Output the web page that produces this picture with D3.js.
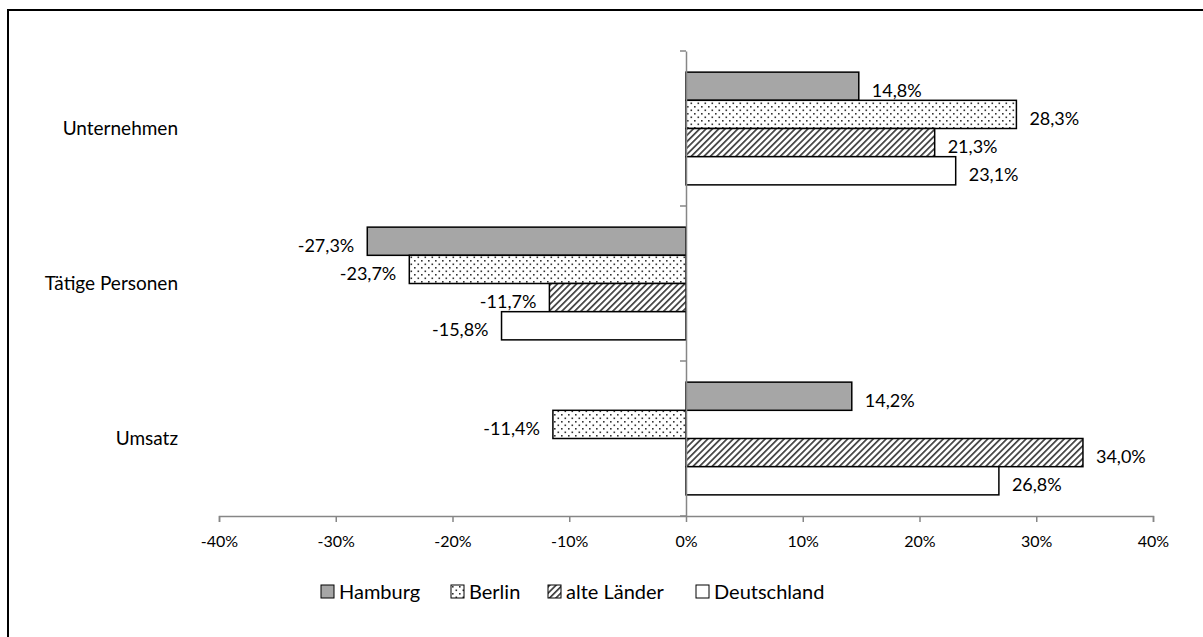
<!DOCTYPE html>
<html>
<head>
<meta charset="utf-8">
<script src="https://cdn.jsdelivr.net/npm/d3@7"></script>
<style>
  body { margin: 0; background: #fff; }
  text { font-family: Lato, "Noto Sans", sans-serif; fill: #000; }
</style>
</head>
<body>
<script>
// Daten
const categories = ["Unternehmen", "Tätige Personen", "Umsatz"];
const series = ["Hamburg", "Berlin", "alte Länder", "Deutschland"];
const hamburg = [14.8, -27.3, 14.2];
const berlin = [28.3, -23.7, -11.4];
const alteLaender = [21.3, -11.7, 34.0];
const deutschland = [23.1, -15.8, 26.8];
const xTicks = [-40, -30, -20, -10, 0, 10, 20, 30, 40];

const values = [hamburg, berlin, alteLaender, deutschland];
const rows = [];
categories.forEach((c, i) => {
  series.forEach((s, j) => rows.push({ cat: c, ser: s, value: values[j][i] }));
});

const width = 1203;
const height = 637;
const margin = { top: 51, right: 50, bottom: 121, left: 219 };

const svg = d3.select('body')
  .append('svg')
  .attr('width', width)
  .attr('height', height);

// Muster
const defs = svg.append('defs');
const dots = defs.append('pattern')
  .attr('id', 'dots')
  .attr('patternUnits', 'userSpaceOnUse')
  .attr('width', 7).attr('height', 7);
dots.append('rect').attr('width', 7).attr('height', 7).attr('fill', '#fff');
dots.append('rect').attr('x', 1).attr('y', 1).attr('width', 1.6).attr('height', 1.6).attr('fill', '#333');
dots.append('rect').attr('x', 4.5).attr('y', 4.5).attr('width', 1.6).attr('height', 1.6).attr('fill', '#333');

const hatch = defs.append('pattern')
  .attr('id', 'hatch')
  .attr('patternUnits', 'userSpaceOnUse')
  .attr('width', 4.5).attr('height', 4.5)
  .attr('patternTransform', 'rotate(45)');
hatch.append('rect').attr('width', 4.5).attr('height', 4.5).attr('fill', '#fff');
hatch.append('rect').attr('x', 0).attr('width', 1.7).attr('height', 4.5).attr('fill', '#404040');

const fills = {
  "Hamburg": '#a6a6a6',
  "Berlin": 'url(#dots)',
  "alte Länder": 'url(#hatch)',
  "Deutschland": '#fff'
};

// Rahmen
svg.append('rect')
  .attr('x', 8).attr('y', 10)
  .attr('width', 1300).attr('height', 700)
  .attr('fill', 'none')
  .attr('stroke', '#000')
  .attr('stroke-width', 2);

// Skalen
const x = d3.scaleLinear()
  .domain([-40, 40])
  .range([margin.left, 1153]);

const y = d3.scaleBand()
  .domain(categories)
  .range([margin.top, height - margin.bottom]);

const ySub = d3.scaleBand()
  .domain(series)
  .range([0, y.bandwidth()])
  .paddingOuter(0.75)
  .paddingInner(0);

// Balken
svg.append('g')
  .selectAll('rect')
  .data(rows)
  .join('rect')
  .attr('x', d => x(Math.min(0, d.value)))
  .attr('y', d => y(d.cat) + ySub(d.ser))
  .attr('width', d => Math.abs(x(d.value) - x(0)))
  .attr('height', ySub.bandwidth())
  .attr('fill', d => fills[d.ser])
  .attr('stroke', '#000')
  .attr('stroke-width', 1.5);

// Beschriftungen
const fmt = v => v.toFixed(1).replace('.', ',') + '%';
svg.append('g')
  .selectAll('text')
  .data(rows)
  .join('text')
  .attr('x', d => d.value >= 0 ? x(d.value) + 13 : x(d.value) - 13)
  .attr('y', d => y(d.cat) + ySub(d.ser) + ySub.bandwidth() / 2 + 4)
  .attr('text-anchor', d => d.value >= 0 ? 'start' : 'end')
  .attr('dy', '0.35em')
  .style('font-size', '18px')
  .text(d => fmt(d.value));

// x-Achse
const xAxis = svg.append('g')
  .attr('transform', `translate(0, ${height - margin.bottom})`)
  .call(d3.axisBottom(x).tickValues(xTicks).tickSize(6).tickPadding(14).tickFormat(d => d + '%'));
xAxis.selectAll('path, line').attr('stroke', '#868686').attr('stroke-width', 1.5);
xAxis.selectAll('text').style('font-size', '16px').style('font-family', 'Lato, sans-serif');

// y-Achse bei 0
const yAxis = svg.append('g')
  .attr('transform', `translate(${x(0)}, 0)`)
  .call(d3.axisLeft(y).tickValues([]).tickSize(0));
yAxis.select('.domain').attr('stroke', '#868686').attr('stroke-width', 1.5);
const yTickPos = y.domain().map(c => y(c)).concat([y.range()[1]]);
yAxis.selectAll('.cat-tick')
  .data(yTickPos)
  .join('line')
  .attr('x1', -6).attr('x2', 0)
  .attr('y1', d => d).attr('y2', d => d)
  .attr('stroke', '#868686')
  .attr('stroke-width', 1.5);

// Kategorien
svg.append('g')
  .selectAll('text')
  .data(categories)
  .join('text')
  .attr('x', 178)
  .attr('y', d => y(d) + y.bandwidth() / 2)
  .attr('text-anchor', 'end')
  .attr('dy', '0.35em')
  .style('font-size', '19px')
  .text(d => d);

// Legende
const legendOffsets = { "Hamburg": 0, "Berlin": 130, "alte Länder": 227, "Deutschland": 375 };
const lg = svg.append('g')
  .selectAll('g')
  .data(series)
  .join('g')
  .attr('transform', d => `translate(${321 + legendOffsets[d]}, 592)`);
lg.append('rect')
  .attr('x', 0).attr('y', -7)
  .attr('width', 13).attr('height', 13)
  .attr('fill', d => fills[d])
  .attr('stroke', '#000')
  .attr('stroke-width', 1);
lg.append('text')
  .attr('x', 18)
  .attr('y', 0)
  .attr('dy', '0.35em')
  .style('font-size', '20px')
  .text(d => d);
</script>
</body>
</html>
